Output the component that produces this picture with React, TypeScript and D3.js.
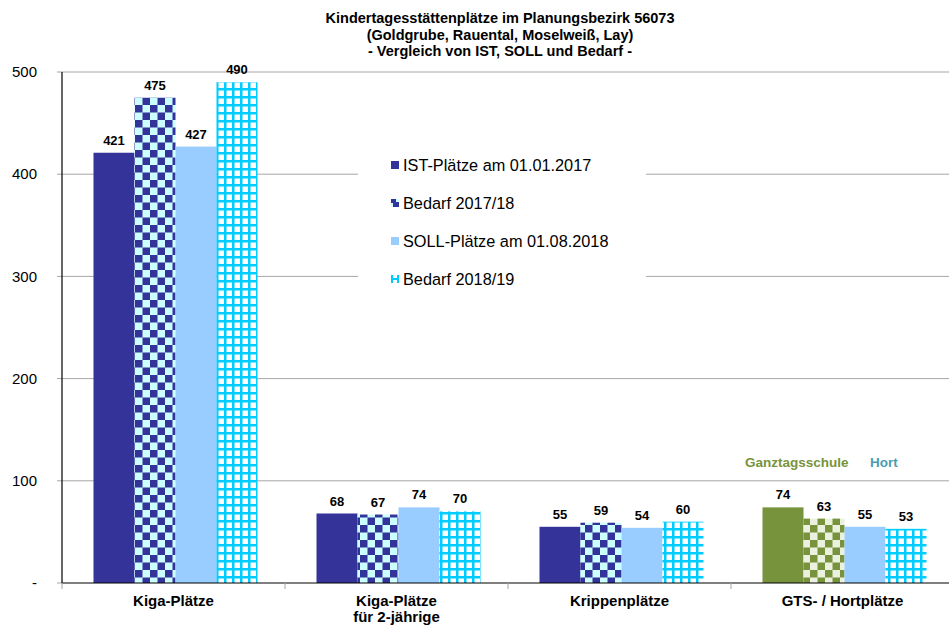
import React from "react";
import * as d3 from "d3";

const categories = ["Kiga-Plätze", "Kiga-Plätze\nfür 2-jährige", "Krippenplätze", "GTS- / Hortplätze"];
const seriesNames = ["IST-Plätze am 01.01.2017", "Bedarf 2017/18", "SOLL-Plätze am 01.08.2018", "Bedarf 2018/19"];
const istValues = [421, 68, 55, 74];
const bedarf1718Values = [475, 67, 59, 63];
const sollValues = [427, 74, 54, 55];
const bedarf1819Values = [490, 70, 60, 53];
const yTicks = [0, 100, 200, 300, 400, 500];
const titleLines = [
  "Kindertagesstättenplätze im Planungsbezirk 56073",
  "(Goldgrube, Rauental, Moselweiß, Lay)",
  "- Vergleich von IST, SOLL und Bedarf -",
];

const W = 949;
const H = 626;
const FONT = "'Liberation Sans', Arial, sans-serif";

export default function App() {
  const series = [istValues, bedarf1718Values, sollValues, bedarf1819Values];
  const x = d3.scaleBand<string>().domain(categories).range([62, 62 + 4 * 223]).padding(0);
  const inner = d3.scaleBand<string>().domain(seriesNames).range([31.5, 195.5]).padding(0);
  const y = d3.scaleLinear().domain([0, 500]).range([583, 72]);

  const fillFor = (si: number, ci: number) => {
    const gts = ci === 3;
    if (si === 0) return gts ? "#77933c" : "#333399";
    if (si === 1) return gts ? "url(#checkGreen)" : "url(#checkBlue)";
    if (si === 2) return "#99ccff";
    return "url(#gridCyan)";
  };

  const legendY = [165, 203, 241, 279];
  const legendFills = ["#333399", "url(#checkBlueL)", "#99ccff", "url(#gridCyanL)"];

  return (
    <svg width={W} height={H} style={{ position: "absolute", left: 0, top: 0, background: "#fff" }} fontFamily={FONT}>
      <defs>
        <pattern id="checkBlue" patternUnits="userSpaceOnUse" width={15} height={15}>
          <rect width={15} height={15} fill="#ccffff" />
          <rect width={7.5} height={7.5} fill="#333399" />
          <rect x={7.5} y={7.5} width={7.5} height={7.5} fill="#333399" />
        </pattern>
        <pattern id="checkGreen" patternUnits="userSpaceOnUse" width={15} height={15}>
          <rect width={15} height={15} fill="#ebf1de" />
          <rect width={7.5} height={7.5} fill="#77933c" />
          <rect x={7.5} y={7.5} width={7.5} height={7.5} fill="#77933c" />
        </pattern>
        <pattern id="gridCyan" patternUnits="userSpaceOnUse" width={8} height={8}>
          <rect width={8} height={8} fill="#ffffff" />
          <rect x={0} y={0} width={2.5} height={8} fill="#00ccff" />
          <rect x={0} y={0} width={8} height={2.5} fill="#00ccff" />
        </pattern>
        <pattern id="checkBlueL" patternUnits="userSpaceOnUse" width={14} height={14} x={391} y={199}>
          <rect width={14} height={14} fill="#333399" />
          <rect x={5} y={0} width={3} height={3} fill="#ccffff" />
          <rect x={0} y={4} width={2} height={4} fill="#ccffff" />
        </pattern>
        <pattern id="gridCyanL" patternUnits="userSpaceOnUse" width={14} height={14} x={391} y={275}>
          <rect width={14} height={14} fill="#ffffff" />
          <rect x={0} y={0} width={2} height={14} fill="#00ccff" />
          <rect x={6} y={0} width={2} height={14} fill="#00ccff" />
          <rect x={0} y={3} width={14} height={2} fill="#00ccff" />
        </pattern>
      </defs>

      {/* Title */}
      {titleLines.map((t, i) => (
        <text key={i} x={500} y={23 + i * 16.5} textAnchor="middle" fontSize={14.5} fontWeight="bold" fill="#000">
          {t}
        </text>
      ))}

      {/* Gridlines */}
      {yTicks.filter((v) => v > 0).map((v) => (
        <line key={v} x1={62} x2={W} y1={y(v)} y2={y(v)} stroke="#a6a6a6" strokeWidth={1} />
      ))}

      {/* Legend box */}
      <rect x={358} y={146} width={288} height={148} fill="#fff" />
      {seriesNames.map((s, i) => (
        <g key={s}>
          <rect x={391} y={legendY[i] - 4} width={8} height={8} fill={legendFills[i]} />
          <text x={403} y={legendY[i]} dy="0.36em" fontSize={16.3} fill="#000">
            {s}
          </text>
        </g>
      ))}

      {/* Y axis ticks and labels */}
      {yTicks.map((v) => (
        <g key={v}>
          <line x1={57} x2={62} y1={y(v)} y2={y(v)} stroke="#a6a6a6" />
          <text x={37} y={y(v)} dy="0.35em" textAnchor="end" fontSize={15} fill="#000">
            {v === 0 ? "-" : String(v)}
          </text>
        </g>
      ))}

      {/* Bars */}
      {categories.map((c, ci) => (
        <g key={c}>
          {series.map((vals, si) => {
            const bx = (x(c) as number) + (inner(seriesNames[si]) as number);
            const bw = inner.bandwidth();
            const v = vals[ci];
            return (
              <g key={si}>
                <rect x={bx} y={y(v)} width={bw} height={y(0) - y(v)} fill={fillFor(si, ci)} />
                <text x={bx + bw / 2} y={y(v) - 8} textAnchor="middle" fontSize={13} fontWeight="bold" fill="#000">
                  {v}
                </text>
              </g>
            );
          })}
        </g>
      ))}

      {/* Axes */}
      <line x1={62} x2={62} y1={72} y2={583} stroke="#000" strokeWidth={1.2} />
      <line x1={62} x2={W} y1={583} y2={583} stroke="#000" strokeWidth={1.2} />
      {categories.map((c) => (
        <line key={c} x1={x(c) as number} x2={x(c) as number} y1={583} y2={589} stroke="#a6a6a6" />
      ))}

      {/* Category labels */}
      {categories.map((c) => {
        const cx = (x(c) as number) + x.bandwidth() / 2;
        return (
          <text key={c} x={cx} y={606} textAnchor="middle" fontSize={15} fontWeight="bold" fill="#000">
            {c.split("\n").map((line, li) => (
              <tspan key={li} x={cx} dy={li === 0 ? 0 : 16}>
                {line}
              </tspan>
            ))}
          </text>
        );
      })}

      {/* GTS annotations */}
      <text x={745} y={467} fontSize={13.5} fontWeight="bold" fill="#77933c">
        Ganztagsschule
      </text>
      <text x={870} y={467} fontSize={13.5} fontWeight="bold" fill="#4a9cb5">
        Hort
      </text>
    </svg>
  );
}
